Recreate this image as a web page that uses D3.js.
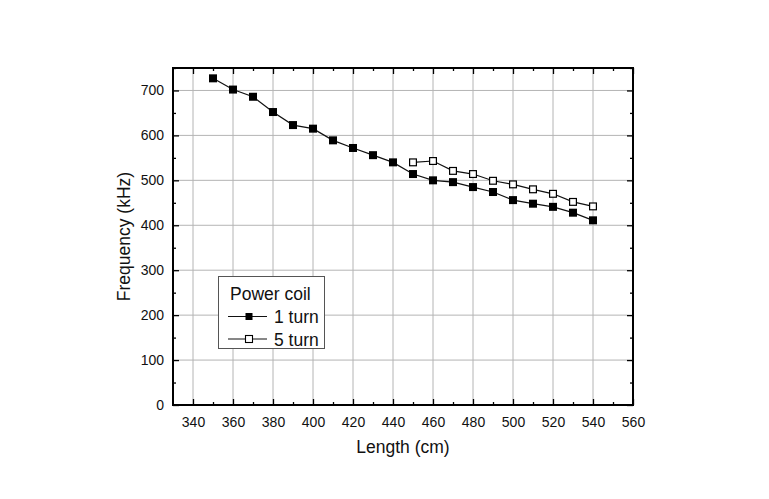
<!DOCTYPE html>
<html><head><meta charset="utf-8">
<script src="https://cdn.jsdelivr.net/npm/d3@7"></script>
<style>body{margin:0;background:#fff}svg{display:block}text{font-family:"Liberation Sans",Arial,sans-serif;fill:#111}</style>
</head><body>
<svg id="c" width="769" height="499"></svg>
<script>
const length1 = [350,360,370,380,390,400,410,420,430,440,450,460,470,480,490,500,510,520,530,540];
const freq1turn = [727,702,686,652,623,615,589,572,556,540,514,500,496,485,474,456,448,441,428,411];
const length5 = [450,460,470,480,490,500,510,520,530,540];
const freq5turn = [540,543,521,514,499,491,480,470,452,442];
const xTicks = [340,360,380,400,420,440,460,480,500,520,540,560];
const yTicks = [0,100,200,300,400,500,600,700];
const seriesNames = ["1 turn","5 turn"];
const legendTitle = "Power coil";

const svg = d3.select("#c");
const L=173, R=633, T=68, B=405;
const x = d3.scaleLinear().domain([330,560]).range([L,R]);
const y = d3.scaleLinear().domain([0,750]).range([B,T]);

// grid
svg.append("g").selectAll("line").data(xTicks).join("line")
  .attr("x1",d=>x(d)).attr("x2",d=>x(d)).attr("y1",T).attr("y2",B)
  .attr("stroke","#b4b4b4").attr("stroke-width",1);
svg.append("g").selectAll("line").data(yTicks.filter(d=>d>0)).join("line")
  .attr("x1",L).attr("x2",R).attr("y1",d=>y(d)).attr("y2",d=>y(d))
  .attr("stroke","#b4b4b4").attr("stroke-width",1);

const xMinor = d3.range(340,561,10);
const yMinor = d3.range(0,751,50);
// axes with inward ticks
const axB = d3.axisBottom(x).tickValues(xMinor).tickSize(-3).tickFormat(d=>xTicks.includes(d)?d:"").tickPadding(12);
const gB = svg.append("g").attr("transform",`translate(0,${B})`).call(axB);
gB.selectAll(".tick line").attr("y2",d=>xTicks.includes(d)?-6:-3);
const axL = d3.axisLeft(y).tickValues(yMinor).tickSize(-3).tickFormat(d=>yTicks.includes(d)?d:"").tickPadding(9);
const gL = svg.append("g").attr("transform",`translate(${L},0)`).call(axL);
gL.selectAll(".tick line").attr("x2",d=>yTicks.includes(d)?6:3);
const axT = d3.axisTop(x).tickValues(xMinor).tickSize(-3).tickFormat("");
const gT = svg.append("g").attr("transform",`translate(0,${T})`).call(axT);
gT.selectAll(".tick line").attr("y2",d=>xTicks.includes(d)?6:3);
const axR = d3.axisRight(y).tickValues(yMinor).tickSize(-3).tickFormat("");
const gR = svg.append("g").attr("transform",`translate(${R},0)`).call(axR);
gR.selectAll(".tick line").attr("x2",d=>yTicks.includes(d)?-6:-3);
[gB,gL,gT,gR].forEach(g=>{g.select(".domain").remove();g.selectAll(".tick line").attr("stroke","#000").attr("stroke-width",1.3);
  g.selectAll("text").attr("font-size",14).attr("fill","#111").style("font-family","'Liberation Sans',Arial,sans-serif");});

// frame
svg.append("rect").attr("x",L).attr("y",T).attr("width",R-L).attr("height",B-T)
  .attr("fill","none").attr("stroke","#000").attr("stroke-width",2);

// series
const line = d3.line().x(d=>x(d[0])).y(d=>y(d[1]));
const s1 = length1.map((v,i)=>[v,freq1turn[i]]);
const s5 = length5.map((v,i)=>[v,freq5turn[i]]);
[s1,s5].forEach(s=>svg.append("path").datum(s).attr("d",line).attr("fill","none").attr("stroke","#111").attr("stroke-width",1.2));
const ms=8;
svg.append("g").selectAll("rect").data(s1).join("rect")
  .attr("x",d=>x(d[0])-ms/2).attr("y",d=>y(d[1])-ms/2).attr("width",ms).attr("height",ms).attr("fill","#000");
svg.append("g").selectAll("rect").data(s5).join("rect")
  .attr("x",d=>x(d[0])-ms/2+0.6).attr("y",d=>y(d[1])-ms/2+0.6).attr("width",ms-1.2).attr("height",ms-1.2)
  .attr("fill","#fff").attr("stroke","#000").attr("stroke-width",1.2);

// axis titles
svg.append("text").attr("x",(L+R)/2).attr("y",453).attr("text-anchor","middle").attr("font-size",17.5).text("Length (cm)");
svg.append("text").attr("transform",`translate(130,${(T+B)/2}) rotate(-90)`).attr("text-anchor","middle").attr("font-size",17.5).text("Frequency (kHz)");

// legend
const lg = svg.append("g");
lg.append("rect").attr("x",218.5).attr("y",276.5).attr("width",106).attr("height",72).attr("fill","#fff").attr("stroke","#555").attr("stroke-width",1);
lg.append("text").attr("x",230).attr("y",300).attr("font-size",17.5).text(legendTitle);
const ly=[316.5,339];
seriesNames.forEach((n,i)=>{
  lg.append("line").attr("x1",228).attr("x2",267).attr("y1",ly[i]).attr("y2",ly[i]).attr("stroke","#111").attr("stroke-width",1.2);
  const s=7;
  lg.append("rect").attr("x",249-s/2).attr("y",ly[i]-s/2).attr("width",s).attr("height",s)
    .attr("fill",i===0?"#000":"#fff").attr("stroke","#000").attr("stroke-width",i===0?0:1.1);
  lg.append("text").attr("x",274).attr("y",ly[i]+6.5).attr("font-size",17.5).text(n);
});
</script>
</body></html>
